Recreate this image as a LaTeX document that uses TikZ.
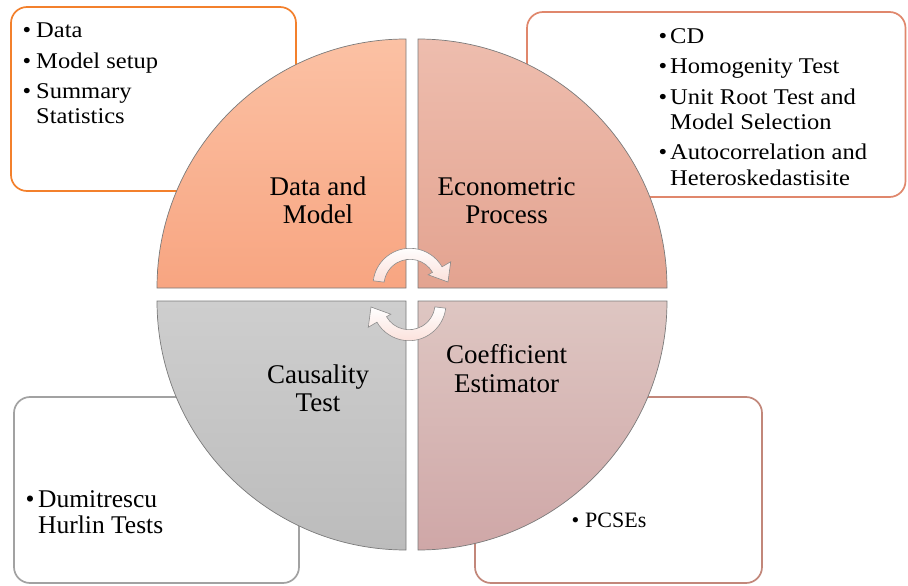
\documentclass[tikz,border=0pt]{standalone}
\usepackage{fontspec}
\setmainfont{Liberation Serif}
\newfontfamily\boxfont[FakeStretch=1.09]{Liberation Serif}
\usetikzlibrary{calc}
\definecolor{tlTop}{HTML}{FBC1A4}
\definecolor{tlBot}{HTML}{F8A581}
\definecolor{trTop}{HTML}{EEBDAE}
\definecolor{trBot}{HTML}{E3A390}
\definecolor{brTop}{HTML}{DEC6C2}
\definecolor{brBot}{HTML}{CFA7A7}
\definecolor{blTop}{HTML}{CECECE}
\definecolor{blBot}{HTML}{BCBCBC}
\definecolor{quadline}{HTML}{7A7A7A}
\definecolor{boxO}{HTML}{F3802C}
\definecolor{boxT}{HTML}{E0876C}
\definecolor{boxG}{HTML}{A2A2A2}
\definecolor{boxB}{HTML}{C2877A}
\definecolor{arrline}{HTML}{8C8C8C}
\definecolor{arrpink}{HTML}{FBE0DA}
\tikzset{
  quad/.style={draw=quadline, line width=0.7pt},
  infobox/.style={rounded corners=16pt, line width=1.7pt, fill=white},
  lbl/.style={font=\fontsize{27}{30}\selectfont, anchor=base, inner sep=0pt},
  btxt/.style={font=\boxfont\fontsize{22.5}{25}\selectfont, anchor=base west, inner sep=0pt},
  dtxt/.style={font=\fontsize{25.5}{28}\selectfont, anchor=base west, inner sep=0pt},
  ptxt/.style={font=\fontsize{22}{25}\selectfont, anchor=base west, inner sep=0pt},
  cyc/.style={draw=arrline, line width=0.6pt, top color=white, bottom color=arrpink}
}
\begin{document}
\begin{tikzpicture}[x=1pt,y=-1pt]
\useasboundingbox (0,0) rectangle (908,586);
\fill[white] (0,0) rectangle (908,586);
% side boxes
\draw[infobox, draw=boxO] (11,7) rectangle (296,191);
\draw[infobox, draw=boxT] (527,12) rectangle (905.5,197);
\draw[infobox, draw=boxG] (14,397) rectangle (299,583);
\draw[infobox, draw=boxB] (475,397) rectangle (762,583);
% quadrants
\draw[quad, top color=tlTop, bottom color=tlBot] (406,288) -- (157,288) arc[start angle=180, end angle=90, radius=249pt] -- cycle;
\draw[quad, top color=trTop, bottom color=trBot] (418,288) -- (418,39) arc[start angle=90, end angle=0, radius=249pt] -- cycle;
\draw[quad, top color=brTop, bottom color=brBot] (418,301) -- (667,301) arc[start angle=0, end angle=-90, radius=249pt] -- cycle;
\draw[quad, top color=blTop, bottom color=blBot] (406,301) -- (406,550) arc[start angle=270, end angle=180, radius=249pt] -- cycle;
% cycle arrows
\path[cyc] (373.28,280.79) arc[start angle=173, end angle=30, radius=37pt] -- (450.7,261.8) -- (448,282) -- (428.2,274.8) -- (432.5,272.3) arc[start angle=30, end angle=173, radius=26pt] -- cycle;
\path[cyc] (445.72,308.21) arc[start angle=-7, end angle=-150, radius=37pt] -- (368.3,327.2) -- (371,307) -- (390.8,314.2) -- (386.5,316.7) arc[start angle=-150, end angle=-7, radius=26pt] -- cycle;
% quadrant labels
\node[lbl] (dm1) at (318,195) {Data and};
\node[lbl] (dm2) at (318,223.4) {Model};
\node[lbl] (ep1) at (506.7,195) {Econometric};
\node[lbl] (ep2) at (506.7,223.4) {Process};
\node[lbl] (ce1) at (506.7,363) {Coefficient};
\node[lbl] (ce2) at (506.7,392) {Estimator};
\node[lbl] (ct1) at (318,383) {Causality};
\node[lbl] (ct2) at (318,411) {Test};
% top-left box text
\node[btxt] (b11) at (22.5,37.3) {•};
\node[btxt] (t11) at (36,37.3) {Data};
\node[btxt] (b12) at (22.5,68.3) {•};
\node[btxt] (t12) at (36,68.3) {Model setup};
\node[btxt] (b13) at (22.5,99) {•};
\node[btxt] (t13) at (36,99) {Summary};
\node[btxt] (t14) at (36,124) {Statistics};
% top-right box text
\node[btxt] (b21) at (658.5,44) {•};
\node[btxt] (t21) at (670,44) {CD};
\node[btxt] (b22) at (658.5,74) {•};
\node[btxt] (t22) at (670,74) {Homogenity Test};
\node[btxt] (b23) at (658.5,104) {•};
\node[btxt] (t23) at (670,104) {Unit Root Test and};
\node[btxt] (t24) at (670,129) {Model Selection};
\node[btxt] (b25) at (658.5,159) {•};
\node[btxt] (t25) at (670,159) {Autocorrelation and};
\node[btxt] (t26) at (670,185) {Heteroskedastisite};
% bottom-left box text
\node[dtxt] (b31) at (25.5,507) {•};
\node[dtxt] (t31) at (38,507) {Dumitrescu};
\node[dtxt] (t32) at (38,533) {Hurlin Tests};
% bottom-right box text
\node[ptxt] (b41) at (571.5,527) {•};
\node[ptxt] (t41) at (585,527) {PCSEs};
\end{tikzpicture}
\end{document}
